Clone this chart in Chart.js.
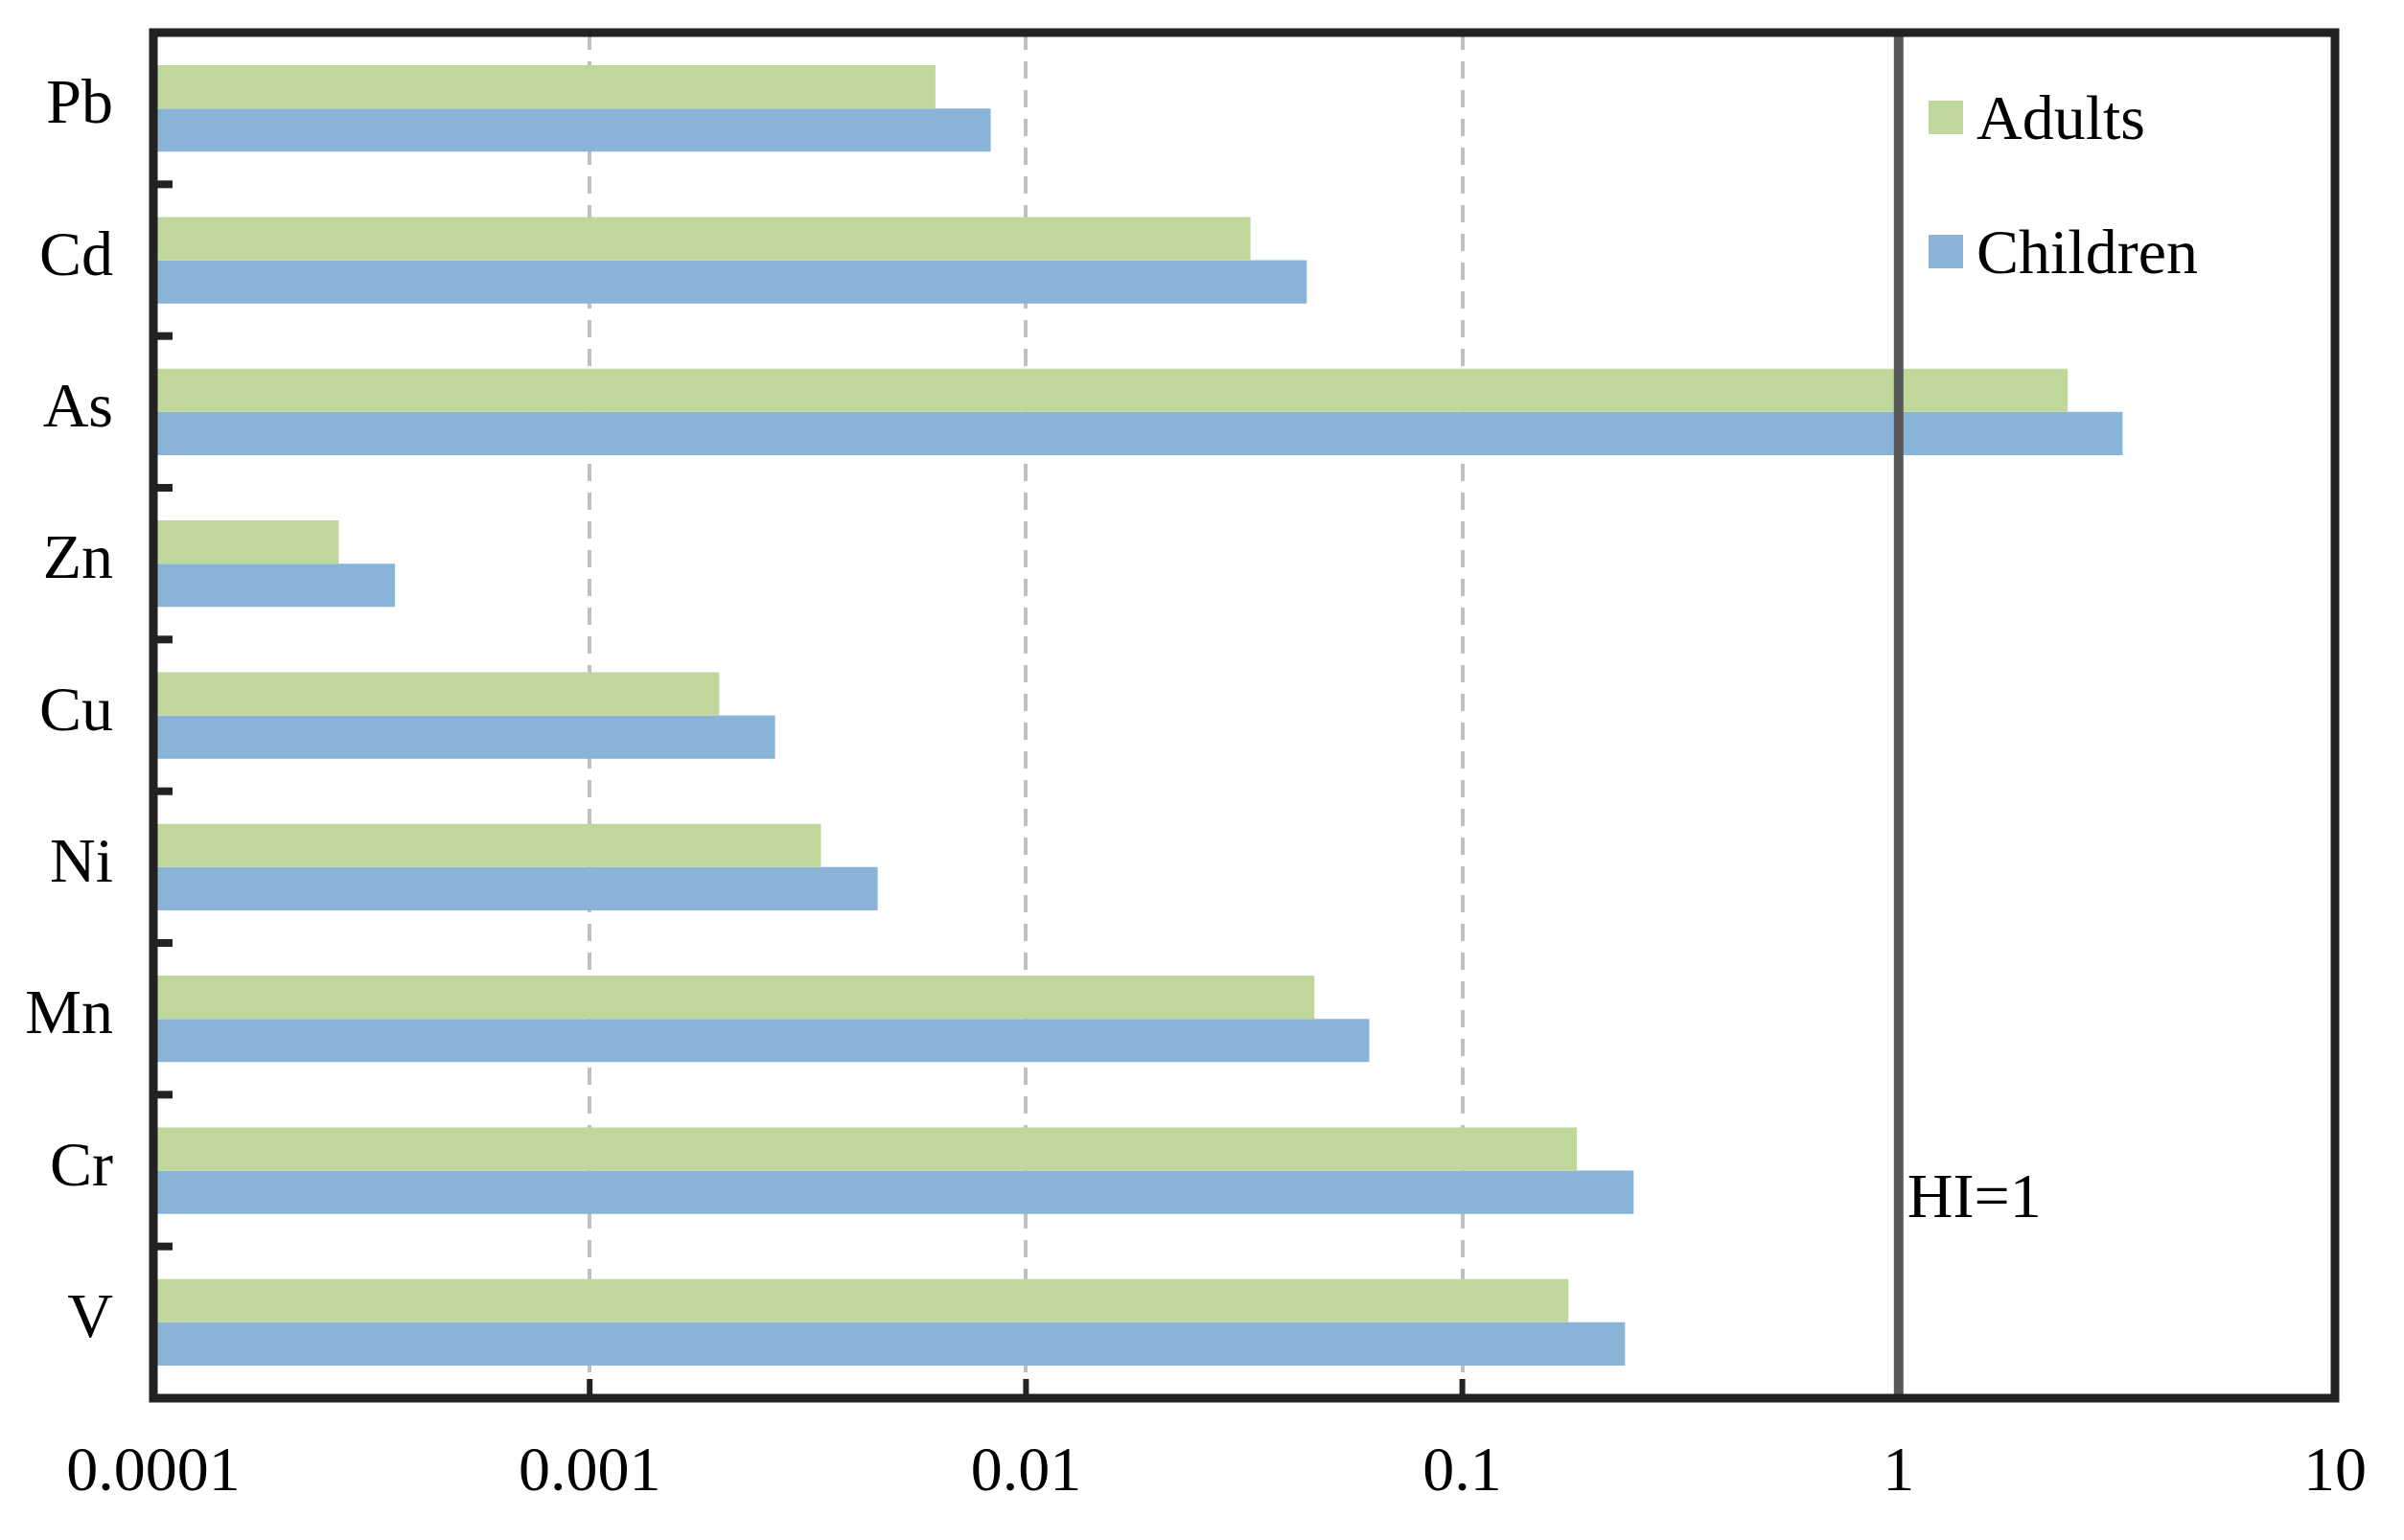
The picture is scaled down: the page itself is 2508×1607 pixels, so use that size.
<!DOCTYPE html>
<html>
<head>
<meta charset="utf-8">
<script src="https://cdn.jsdelivr.net/npm/chart.js@4.4.1/dist/chart.umd.min.js"></script>
<style>
  body { margin: 0; background: #fff; }
  canvas { display: block; }
</style>
</head>
<body>
<canvas id="chart" width="2508" height="1607"></canvas>
<script>
// data (hazard quotient, log scale)
const elements = ['Pb', 'Cd', 'As', 'Zn', 'Cu', 'Ni', 'Mn', 'Cr', 'V'];
const adults = [0.0062, 0.0327, 2.44, 0.000266, 0.00198, 0.00339, 0.0458, 0.183, 0.175];
const children = [0.0083, 0.044, 3.26, 0.000358, 0.00266, 0.00457, 0.0612, 0.247, 0.236];
const tickValues = [0.0001, 0.001, 0.01, 0.1, 1, 10];
const tickLabels = ['0.0001', '0.001', '0.01', '0.1', '1', '10'];
const dashedGrid = [0.001, 0.01, 0.1];
const hiValue = 1;

const FONT = 'Liberation Serif';
const GREEN = '#BFD79B';
const BLUE = '#8AB3D8';

// frame, dashed grid, HI=1 line, category labels and the inside legend
const decorations = {
    id: 'decorations',
    beforeDatasetsDraw(chart) {
        const ctx = chart.ctx;
        const area = chart.chartArea;
        const x = chart.scales.x;
        ctx.save();
        ctx.strokeStyle = '#BFBFBF';
        ctx.lineWidth = 4;
        ctx.setLineDash([18, 12]);
        dashedGrid.forEach(v => {
            const px = Math.round(x.getPixelForValue(v));
            ctx.beginPath();
            ctx.moveTo(px, area.top);
            ctx.lineTo(px, area.bottom);
            ctx.stroke();
        });
        ctx.restore();
    },
    afterDatasetsDraw(chart) {
        const ctx = chart.ctx;
        const area = chart.chartArea;
        const x = chart.scales.x;
        const y = chart.scales.y;
        ctx.save();

        // HI = 1 reference line
        const hx = x.getPixelForValue(hiValue);
        ctx.strokeStyle = '#595959';
        ctx.lineWidth = 10;
        ctx.beginPath();
        ctx.moveTo(hx, area.top);
        ctx.lineTo(hx, area.bottom);
        ctx.stroke();

        ctx.fillStyle = '#000';
        ctx.font = '66px "' + FONT + '"';
        ctx.textAlign = 'left';
        ctx.textBaseline = 'alphabetic';
        ctx.fillText('HI=1', hx + 9, 1270);

        // frame
        ctx.strokeStyle = '#222';
        ctx.lineWidth = 9;
        ctx.strokeRect(area.left, area.top, area.right - area.left, area.bottom - area.top);

        // small ticks between categories
        ctx.fillStyle = '#222';
        for (let i = 0; i < elements.length - 1; i++) {
            const py = (y.getPixelForValue(i) + y.getPixelForValue(i + 1)) / 2;
            ctx.fillRect(area.left, py - 4, 20, 8);
        }
        // small ticks on the bottom axis
        dashedGrid.forEach(v => {
            const px = x.getPixelForValue(v);
            ctx.fillRect(px - 3, area.bottom - 20, 6, 20);
        });

        // category labels
        ctx.fillStyle = '#000';
        ctx.textAlign = 'right';
        ctx.textBaseline = 'middle';
        elements.forEach((name, i) => {
            ctx.fillText(name, 118, y.getPixelForValue(i) - 2);
        });

        // legend
        ctx.textAlign = 'left';
        ctx.textBaseline = 'alphabetic';
        chart.data.datasets.forEach((ds, i) => {
            const top = 105 + i * 140;
            ctx.fillStyle = ds.backgroundColor;
            ctx.fillRect(2012, top, 36, 35);
            ctx.fillStyle = '#000';
            ctx.fillText(ds.label, 2062, top + 40);
        });
        ctx.restore();
    }
};

new Chart(document.getElementById('chart'), {
    type: 'bar',
    data: {
        labels: elements,
        datasets: [
            { label: 'Adults', data: adults, backgroundColor: GREEN },
            { label: 'Children', data: children, backgroundColor: BLUE }
        ]
    },
    options: {
        indexAxis: 'y',
        responsive: false,
        animation: false,
        devicePixelRatio: 1,
        layout: { padding: { left: 0, right: 63, top: 34, bottom: 0 } },
        datasets: {
            bar: { categoryPercentage: 0.57, barPercentage: 1.0, borderWidth: 0 }
        },
        scales: {
            x: {
                type: 'logarithmic',
                min: 0.0001,
                max: 10,
                afterBuildTicks: s => { s.ticks = tickValues.map(v => ({ value: v })); },
                afterFit: s => { s.height = 148; },
                grid: { display: false, drawTicks: false },
                border: { display: false },
                ticks: {
                    autoSkip: false,
                    maxRotation: 0,
                    padding: 39,
                    color: '#000',
                    font: { family: FONT, size: 66 },
                    callback: (v, i) => tickLabels[i]
                }
            },
            y: {
                afterFit: s => { s.width = 160; },
                grid: { display: false, drawTicks: false },
                border: { display: false },
                ticks: { display: false }
            }
        },
        plugins: {
            legend: { display: false },
            tooltip: { enabled: false }
        }
    },
    plugins: [decorations]
});
</script>
</body>
</html>
